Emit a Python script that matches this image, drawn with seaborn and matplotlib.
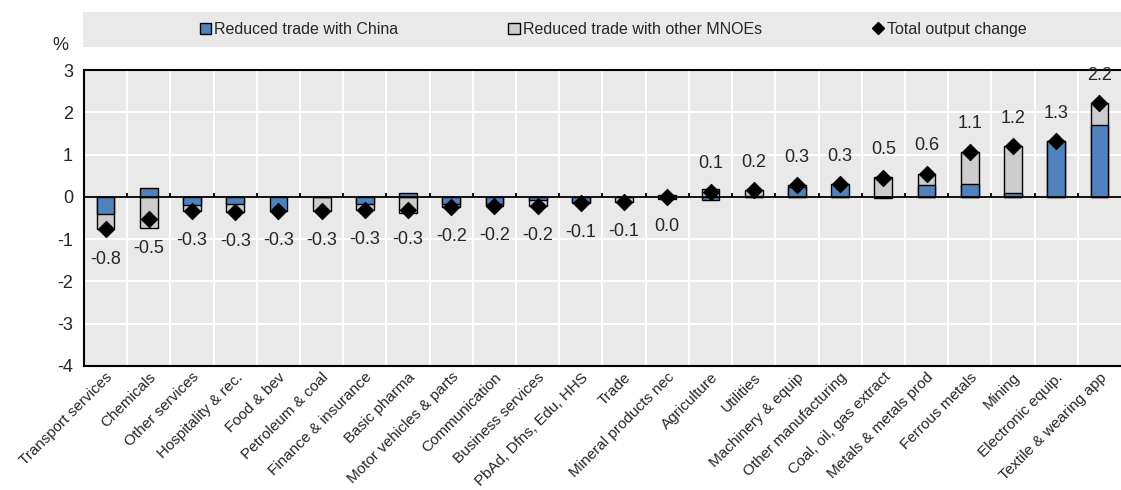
import numpy as np
import pandas as pd
import seaborn as sns
import matplotlib.pyplot as plt
from matplotlib.patches import Patch, Rectangle
from matplotlib.lines import Line2D

# Données (points de %)
sectors = [
    "Transport services", "Chemicals", "Other services", "Hospitality & rec.",
    "Food & bev", "Petroleum & coal", "Finance & insurance", "Basic pharma",
    "Motor vehicles & parts", "Communication", "Business services",
    "PbAd, Dfns, Edu, HHS", "Trade", "Mineral products nec", "Agriculture",
    "Utilities", "Machinery & equip", "Other manufacturing",
    "Coal, oil, gas extract", "Metals & metals prod", "Ferrous metals",
    "Mining", "Electronic equip.", "Textile & wearing app",
]
china = [-0.40, 0.20, -0.20, -0.18, -0.34, -0.01, -0.16, 0.08,
         -0.17, -0.16, -0.08, -0.12, 0.00, -0.05, -0.07, 0.01,
         0.24, 0.30, -0.02, 0.29, 0.30, 0.09, 1.31, 1.71]
other = [-0.37, -0.73, -0.14, -0.17, 0.00, -0.33, -0.14, -0.39,
         -0.06, -0.06, -0.14, -0.02, -0.13, 0.05, 0.18, 0.16,
         0.04, 0.00, 0.47, 0.26, 0.77, 1.11, 0.01, 0.50]
total = [-0.77, -0.53, -0.34, -0.35, -0.34, -0.34, -0.30, -0.31,
         -0.23, -0.22, -0.22, -0.14, -0.13, 0.00, 0.12, 0.16,
         0.28, 0.30, 0.45, 0.55, 1.07, 1.20, 1.32, 2.21]

BLUE = "#4f81bd"
GREY = "#cccccc"
BG = "#e9e9e9"

df = pd.DataFrame({"sector": sectors, "china": china, "other": other, "total": total})
# empilement : même signe -> la barre grise part du haut de la bleue
same = np.sign(df["china"]) == np.sign(df["other"])
df["outer"] = np.where(same, df["china"] + df["other"], df["other"])

sns.set_style("white")
plt.rcParams["font.family"] = ["Liberation Sans", "DejaVu Sans"]
plt.rcParams["axes.unicode_minus"] = False

fig = plt.figure(figsize=(11.21, 4.90), dpi=100)
ax = fig.add_axes([84 / 1121, 1 - 366 / 490, 1 - 84 / 1121, (366 - 70) / 490])
ax.set_facecolor(BG)

sns.barplot(data=df, x="sector", y="outer", color=GREY, saturation=1,
            edgecolor="black", linewidth=1, width=0.41, ax=ax, zorder=2)
sns.barplot(data=df, x="sector", y="china", color=BLUE, saturation=1,
            edgecolor="black", linewidth=1, width=0.41, ax=ax, zorder=3)
sns.scatterplot(data=df, x="sector", y="total", marker="D", color="black",
                s=70, edgecolor="black", ax=ax, zorder=5, legend=False)

n = len(sectors)
for i, v in enumerate(df["total"]):
    off = 0.66 if v > 0 else -0.70
    ax.text(i, v + off, f"{v:.1f}", ha="center", va="center", fontsize=13, zorder=6)

ax.set_xlim(-0.5, n - 0.5)
ax.set_ylim(-4, 3)
ax.set_yticks(range(-4, 4))
ax.set_xticks(np.arange(n - 1) + 0.5, minor=True)
ax.grid(True, which="minor", axis="x", color="white", lw=1.5, zorder=0)
ax.grid(True, which="major", axis="y", color="white", lw=1.5, zorder=0)
ax.set_axisbelow(True)
ax.axhline(0, color="black", lw=1.3, zorder=4)
ax.vlines(np.arange(n - 1) + 0.5, 0, 0.09, color="black", lw=1.3, zorder=4)

ax.tick_params(axis="x", which="both", length=0, labelsize=11, pad=3)
ax.tick_params(axis="y", direction="in", length=4, width=1.2, labelsize=13, pad=8)
plt.setp(ax.get_xticklabels(), rotation=45, ha="right", rotation_mode="anchor")
ax.set_xlabel("")
ax.set_ylabel("")
for s in ["left", "top", "bottom"]:
    ax.spines[s].set_color("black")
    ax.spines[s].set_linewidth(1.5)
ax.spines["right"].set_visible(False)

fig.text(60 / 1121, 1 - 45 / 490, "%", fontsize=13, ha="center", va="center")

# bandeau de légende
fig.patches.append(Rectangle((83 / 1121, 1 - 47 / 490), 1 - 83 / 1121, 35 / 490,
                             transform=fig.transFigure, facecolor=BG, edgecolor="none"))
handles = [
    Patch(facecolor=BLUE, edgecolor="black", label="Reduced trade with China"),
    Patch(facecolor=GREY, edgecolor="black", label="Reduced trade with other MNOEs"),
    Line2D([], [], marker="D", color="black", lw=0, markersize=6, label="Total output change"),
]
fig.legend(handles=handles, loc="center", bbox_to_anchor=(613 / 1121, 1 - 29.5 / 490),
           ncol=3, frameon=False, fontsize=11.5, handlelength=0.7, handleheight=0.7,
           handletextpad=0.2, columnspacing=6.9)

fig.savefig("out.png", dpi=100)
